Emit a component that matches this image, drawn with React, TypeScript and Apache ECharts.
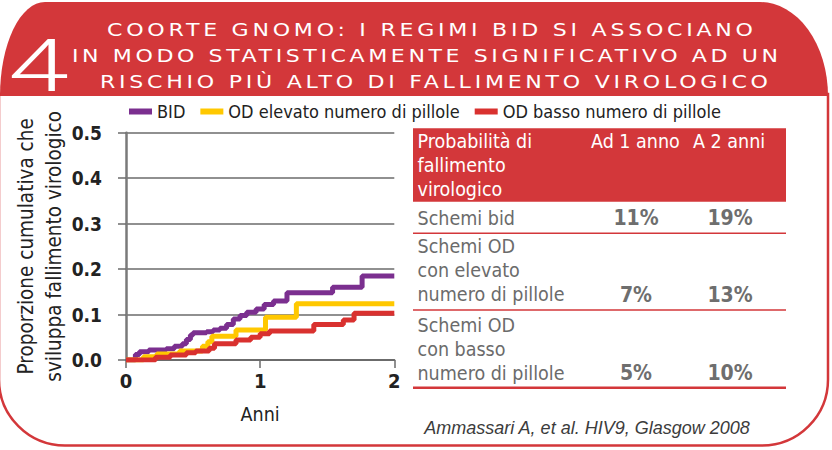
import React, { useEffect, useRef } from "react";
import * as echarts from "echarts";

// ---------- data ----------
const seriesNames = ["BID", "OD elevato numero di pillole", "OD basso numero di pillole"];
const seriesColors = ["#7B2F8F", "#FFC800", "#D9312F"];

const bidTimes = [0, 0.07, 0.1, 0.17, 0.3, 0.36, 0.42, 0.45, 0.48, 0.5, 0.6, 0.65, 0.7, 0.75, 0.8, 0.85, 0.9, 0.97, 1.03, 1.1, 1.2, 1.54, 1.76, 2];
const bidValues = [0, 0.012, 0.018, 0.022, 0.025, 0.03, 0.036, 0.045, 0.055, 0.06, 0.062, 0.066, 0.07, 0.078, 0.09, 0.098, 0.105, 0.112, 0.122, 0.13, 0.148, 0.16, 0.185, 0.185];

const odHighTimes = [0, 0.13, 0.23, 0.4, 0.57, 0.61, 0.64, 0.82, 1.04, 1.27, 2];
const odHighValues = [0, 0.007, 0.013, 0.02, 0.03, 0.04, 0.052, 0.066, 0.094, 0.124, 0.124];

const odLowTimes = [0, 0.22, 0.33, 0.45, 0.52, 0.62, 0.66, 0.82, 0.93, 1.0, 1.07, 1.4, 1.62, 1.7, 2];
const odLowValues = [0, 0.006, 0.011, 0.016, 0.02, 0.026, 0.036, 0.044, 0.05, 0.058, 0.064, 0.078, 0.088, 0.103, 0.103];

const yAxisName = "Proporzione cumulativa che\nsviluppa fallimento virologico";
const xAxisName = "Anni";

const titleNumber = "4";
const titleLines = [
  "COORTE GNOMO: I REGIMI BID SI ASSOCIANO",
  "IN MODO STATISTICAMENTE SIGNIFICATIVO AD UN",
  "RISCHIO PIÙ ALTO DI FALLIMENTO VIROLOGICO",
];

const tableHeader = ["Probabilità di\nfallimento\nvirologico", "Ad 1 anno", "A 2 anni"];
const rowLabels = ["Schemi bid", "Schemi OD\ncon elevato\nnumero di pillole", "Schemi OD\ncon basso\nnumero di pillole"];
const oneYear = ["11%", "7%", "5%"];
const twoYears = ["19%", "13%", "10%"];
const citation = "Ammassari A, et al. HIV9, Glasgow 2008";

// ---------- styling ----------
const RED = "#D3373A";
const NARROW = '"DejaVu Sans Condensed", "Liberation Sans Narrow", sans-serif';
const REGULAR = '"Liberation Sans", Arial, sans-serif';
const TITLE_FONT = '"DejaVu Sans", sans-serif';
const TITLE_SCALE = 1.3;

const titleGeom = [
  { cx: 430, cy: 30.5, w: 646 },
  { cx: 425, cy: 56.5, w: 706 },
  { cx: 434, cy: 82.5, w: 668 },
];

const bannerPath = "M0,96 A45,94 0 0 1 45,2 L760,2 A68,94 0 0 1 828,96 Z";
let registered = false;

function pairs(t: number[], v: number[]) {
  return t.map((x, i) => [x, v[i]]);
}

export default function App() {
  const ref = useRef<HTMLDivElement>(null);

  useEffect(() => {
    if (!ref.current) return;
    if (!registered) {
      echarts.graphic.registerShape("banner", echarts.graphic.extendPath(bannerPath, {}) as any);
      registered = true;
    }
    const chart = echarts.init(ref.current, undefined, { renderer: "svg" });

    const rowLabelTops = [206.3, 234.7, 313];
    const valueYs = [218.3, 295, 373.3];
    const BODY = "normal 19.5px " + NARROW;

    const graphic: any[] = [
      {
        type: "rect",
        z: -10,
        shape: { x: -1, y: 94, width: 829, height: 351.5, r: [0, 0, 66, 66] },
        style: { fill: "#fff", stroke: RED, lineWidth: 2.5 },
      },
      { type: "banner", z: -5, x: 0, y: 0, style: { fill: RED } },
      {
        type: "text",
        z: -4,
        x: 38.5,
        y: 66.5,
        scaleX: 1.5,
        style: {
          text: titleNumber,
          x: 0,
          y: 0,
          fill: "#fff",
          font: '300 73px Roboto, "Liberation Sans", sans-serif',
          textAlign: "center",
          textVerticalAlign: "middle",
        },
      },
      ...titleLines.map((t, i) => ({
        type: "text",
        z: -4,
        x: titleGeom[i].cx,
        y: titleGeom[i].cy,
        scaleX: TITLE_SCALE,
        style: {
          text: t,
          x: 0,
          y: 0,
          fill: "#fff",
          font: "normal 17px " + TITLE_FONT,
          textAlign: "center",
          textVerticalAlign: "middle",
        },
      })),
      // table header
      {
        type: "rect",
        z: -4,
        shape: { x: 413, y: 128.3, width: 373, height: 73.4 },
        style: { fill: RED },
      },
      {
        type: "text",
        z: -3,
        style: {
          text: tableHeader[0],
          x: 417.5,
          y: 129,
          fill: "#fff",
          font: BODY,
          lineHeight: 24,
          textVerticalAlign: "top",
        },
      },
      {
        type: "text",
        z: -3,
        style: { text: tableHeader[1], x: 591, y: 141, fill: "#fff", font: BODY, textVerticalAlign: "middle" },
      },
      {
        type: "text",
        z: -3,
        style: { text: tableHeader[2], x: 693, y: 141, fill: "#fff", font: BODY, textVerticalAlign: "middle" },
      },
      ...rowLabels.map((t, i) => ({
        type: "text",
        z: -3,
        style: {
          text: t,
          x: 417.5,
          y: rowLabelTops[i],
          fill: "#6b6b6b",
          font: BODY,
          lineHeight: 24,
          textVerticalAlign: "top",
        },
      })),
      ...oneYear.map((t, i) => ({
        type: "text",
        z: -3,
        style: { text: t, x: 636, y: valueYs[i], fill: "#6e6e6e", font: "bold 21px " + NARROW, textAlign: "center", textVerticalAlign: "middle" },
      })),
      ...twoYears.map((t, i) => ({
        type: "text",
        z: -3,
        style: { text: t, x: 730, y: valueYs[i], fill: "#6e6e6e", font: "bold 21px " + NARROW, textAlign: "center", textVerticalAlign: "middle" },
      })),
      { type: "line", z: -3, shape: { x1: 413, y1: 233.3, x2: 786, y2: 233.3 }, style: { stroke: RED, lineWidth: 1.4 } },
      { type: "line", z: -3, shape: { x1: 413, y1: 310, x2: 786, y2: 310 }, style: { stroke: RED, lineWidth: 1.4 } },
      { type: "line", z: -3, shape: { x1: 413, y1: 387.7, x2: 786, y2: 387.7 }, style: { stroke: RED, lineWidth: 2.4 } },
      {
        type: "text",
        z: -3,
        style: { text: citation, x: 587, y: 428, fill: "#3c3c3c", font: "italic 18px " + REGULAR, textAlign: "center", textVerticalAlign: "middle" },
      },
    ];

    const mkSeries = (i: number, t: number[], v: number[]) => ({
      name: seriesNames[i],
      type: "line",
      step: "end",
      data: pairs(t, v),
      showSymbol: false,
      symbol: "none",
      color: seriesColors[i],
      lineStyle: { color: seriesColors[i], width: 5 },
      itemStyle: { color: seriesColors[i] },
      z: 3 + i,
    });

    chart.setOption({
      animation: false,
      backgroundColor: "#fff",
      graphic,
      legend: {
        data: seriesNames,
        left: 129,
        top: 102.5,
        padding: 0,
        icon: "rect",
        itemWidth: 23,
        itemHeight: 6,
        itemGap: 15,
        textStyle: { fontFamily: NARROW, fontSize: 18, color: "#222" },
      },
      grid: { left: 126, top: 132.7, width: 268.3, height: 227.3 },
      xAxis: {
        type: "value",
        min: 0,
        max: 2,
        interval: 1,
        name: xAxisName,
        nameLocation: "middle",
        nameGap: 44,
        nameTextStyle: { fontFamily: NARROW, fontSize: 19.5, color: "#222" },
        axisLine: { show: true, lineStyle: { color: "#6b6b6b", width: 2 } },
        axisTick: { show: true, length: 8, lineStyle: { color: "#6b6b6b", width: 1.5 } },
        axisLabel: { fontFamily: NARROW, fontWeight: "bold", fontSize: 20, color: "#222", margin: 11 },
        splitLine: { show: false },
      },
      yAxis: {
        type: "value",
        min: 0,
        max: 0.5,
        interval: 0.1,
        name: yAxisName,
        nameLocation: "middle",
        nameRotate: 90,
        nameGap: 58,
        nameTextStyle: { fontFamily: NARROW, fontSize: 20.5, color: "#222", lineHeight: 28 },
        axisLine: { show: true, lineStyle: { color: "#7a7a7a", width: 2.5 } },
        axisTick: { show: true, length: 8, lineStyle: { color: "#6b6b6b", width: 1.5 } },
        axisLabel: {
          fontFamily: NARROW,
          fontWeight: "bold",
          fontSize: 19,
          color: "#222",
          margin: 24,
          formatter: (v: number) => v.toFixed(1),
        },
        splitLine: { show: true, lineStyle: { color: "#6b6b6b", width: 1.5 } },
      },
      series: [
        mkSeries(0, bidTimes, bidValues),
        mkSeries(1, odHighTimes, odHighValues),
        mkSeries(2, odLowTimes, odLowValues),
      ],
    });

    const applySpacing = () => {
      const root = ref.current;
      if (!root) return;
      const texts = root.querySelectorAll("text");
      texts.forEach((el: any) => {
        const idx = titleLines.indexOf(el.textContent || "");
        if (idx < 0 || el.getAttribute("data-ls")) return;
        const natural = el.getComputedTextLength ? el.getComputedTextLength() : 0;
        if (!natural) return;
        const n = titleLines[idx].length;
        const target = titleGeom[idx].w / TITLE_SCALE;
        const ls = Math.max(0, (target - natural) / (n - 1));
        el.setAttribute("letter-spacing", ls.toFixed(2) + "px");
        el.setAttribute("data-ls", "1");
        el.setAttribute("dx", (ls / 2).toFixed(2));
      });
    };
    applySpacing();
    chart.on("finished", applySpacing);
    const raf = requestAnimationFrame(applySpacing);

    return () => {
      cancelAnimationFrame(raf);
      chart.dispose();
    };
  }, []);

  return (
    <div
      ref={ref}
      style={{ position: "absolute", left: 0, top: 0, width: 832, height: 450 }}
    />
  );
}
